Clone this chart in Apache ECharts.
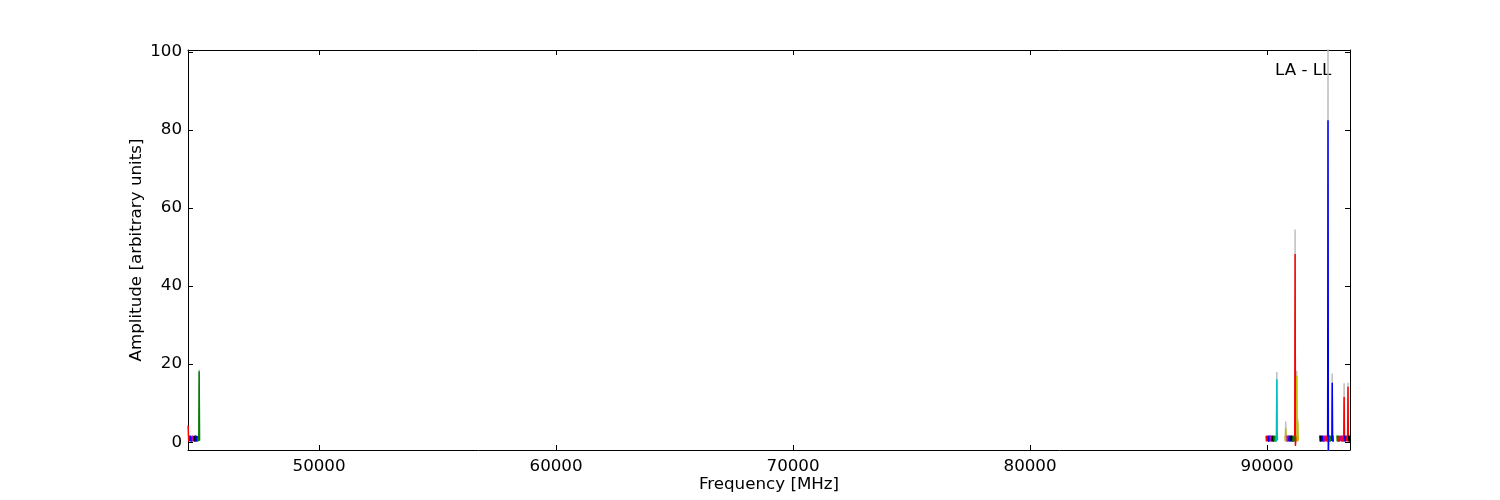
<!DOCTYPE html>
<html>
<head>
<meta charset="utf-8">
<script src="https://cdn.jsdelivr.net/npm/echarts@6/dist/echarts.min.js"></script>
<style>
html,body{margin:0;padding:0;background:#fff;}
#chart{width:1500px;height:500px;}
</style>
</head>
<body>
<div id="chart"></div>
<script>
// Spectral windows: start frequency (MHz), channel width (MHz), colour key, amplitudes
var channelWidth = 14;
var windowStart = [
  44475, 44557, 44639, 44721, 44803, 44885,
  89960, 90042, 90124, 90206, 90288, 90370,
  90760, 90842, 90924, 91006, 91088, 91170, 91252,
  92230, 92312, 92394, 92476, 92558, 92640, 92722,
  92950, 93032, 93114, 93196, 93278, 93360, 93442
];
var windowColor = [
  'r','b','m','k','b','g',
  'r','b','m','k','g','c',
  'y','m','b','k','g','r','y',
  'k','b','m','r','b','g','b',
  'g','r','m','r','b','r','k'
];
var windowAmp = [
  [4.3, 1.6, 0.2, 1.7, 0.3, 1.5],
  [0.2, 1.7, 0.4, 1.6, 0.1, 1.5],
  [1.6, 0.2, 1.7, 0.3, 1.6, 0.2],
  [0.3, 1.6, 0.1, 1.7, 0.2, 1.6],
  [1.7, 0.2, 1.5, 0.1, 1.6, 0.3],
  [0.2, 1.6, 0.3, 1.7, 18.2, 0.4],

  [1.6, 0.2, 1.7, 0.3, 1.5, 0.2],
  [0.3, 1.7, 0.1, 1.6, 0.2, 1.7],
  [1.7, 0.3, 1.6, 0.1, 1.7, 0.2],
  [0.2, 1.6, 0.3, 1.7, 0.1, 1.6],
  [1.5, 0.2, 1.7, 0.3, 1.6, 0.1],
  [0.3, 1.6, 0.2, 16.1, 2.8, 0.5],

  [1.6, 0.2, 3.6, 0.3, 1.7, 0.2],
  [1.7, 0.1, 1.6, 0.3, 1.7, 0.2],
  [0.2, 1.7, 0.3, 1.6, 0.1, 1.7],
  [1.6, 0.3, 1.7, 0.2, 1.6, 0.1],
  [0.3, 1.7, 0.1, 1.6, 0.2, 1.5],
  [1.6, 48.2, -1.0, 1.7, 0.2, 1.6],
  [17.0, 1.6, 0.2, 5.2, 0.3, 1.5],

  [1.7, 0.2, 1.6, 0.1, 1.7, 0.3],
  [0.2, 1.6, 0.3, 1.7, 0.1, 1.6],
  [1.6, 0.1, 1.7, 0.2, 1.6, 0.3],
  [0.3, 1.7, 0.2, 1.6, 0.1, 1.7],
  [1.5, 82.5, -3.0, 1.6, 0.2, 1.7],
  [0.2, 1.7, 0.1, 1.6, 0.3, 1.5],
  [1.6, 0.3, 15.2, 0.2, 1.7, 0.1],

  [1.7, 0.2, 1.6, 0.3, 1.7, 0.1],
  [0.1, 1.6, 0.2, 1.7, 0.3, 1.6],
  [1.6, 0.3, 1.7, 0.1, 1.5, 0.2],
  [0.2, 1.7, 0.1, 1.6, 11.6, 0.3],
  [1.7, 0.1, 1.6, 0.2, 1.7, 0.3],
  [0.3, 1.6, 0.2, 1.7, 14.2, 0.2],
  [1.6, 0.2, 1.7, 0.1, 1.6, 0.3]
];
// Second (grey) polarisation, only where it shows above the coloured trace
var grayWindow = [5, 11, 12, 17, 18, 23, 25, 29, 31];
var grayAmp = [
  [0.3, 1.7, 0.4, 1.8, 18.6, 0.5],
  [0.4, 1.7, 0.3, 18.0, 3.2, 5.0],
  [1.7, 0.3, 5.3, 0.4, 1.8, 0.3],
  [1.7, 54.5, -0.5, 1.8, 0.3, 1.7],
  [18.3, 1.7, 0.3, 6.0, 0.4, 1.6],
  [1.6, 101.0, -2.5, 1.7, 0.3, 1.8],
  [1.7, 0.4, 17.6, 0.3, 1.8, 0.2],
  [0.3, 1.8, 0.2, 1.7, 15.1, 0.4],
  [0.4, 1.7, 0.3, 1.8, 15.2, 0.3]
];
var xMin = 44470, xMax = 93500;
var yMin = -2, yMax = 100.5;
var palette = {b:'#0000ff', g:'#008000', r:'#ff0000', c:'#00bfbf', m:'#bf00bf', y:'#bfbf00', k:'#000000'};

function toPairs(start, amps) {
  return amps.map(function (a, i) { return [start + i * channelWidth, a]; });
}

var series = [];
grayWindow.forEach(function (w, j) {
  series.push({
    type: 'line', data: toPairs(windowStart[w], grayAmp[j]),
    showSymbol: false, silent: true, z: 1,
    lineStyle: { color: '#bfbfbf', width: 1.5 }
  });
});
windowStart.forEach(function (s, i) {
  series.push({
    type: 'line', data: toPairs(s, windowAmp[i]),
    showSymbol: false, silent: true, z: 2,
    lineStyle: { color: palette[windowColor[i]], width: 1.5 }
  });
});

var font = 'DejaVu Sans';
var fs = 16.7;
var plain = function (v) { return String(v); };
var chart = echarts.init(document.getElementById('chart'), null, {renderer: 'canvas'});
chart.setOption({
  animation: false,
  backgroundColor: '#ffffff',
  grid: { left: 188, right: 150, top: 50, bottom: 50 },
  xAxis: [{
    type: 'value', min: xMin, max: xMax, splitNumber: 5,
    name: 'Frequency [MHz]', nameLocation: 'middle', nameGap: 26, nameMoveOverlap: false,
    nameTextStyle: { fontFamily: font, fontSize: fs, color: '#000' },
    axisLine: { show: true, onZero: false, lineStyle: { color: '#000', width: 1 } },
    axisTick: { show: true, inside: true, length: 5, lineStyle: { color: '#000' } },
    axisLabel: { fontFamily: font, fontSize: fs, color: '#000', margin: 8, formatter: plain, showMinLabel: false, showMaxLabel: false },
    splitLine: { show: false }
  }, {
    type: 'value', min: xMin, max: xMax, splitNumber: 5, position: 'top',
    axisLine: { show: true, onZero: false, lineStyle: { color: '#000', width: 1 } },
    axisTick: { show: true, inside: true, length: 5, lineStyle: { color: '#000' } },
    axisLabel: { show: false }, splitLine: { show: false }
  }],
  yAxis: [{
    type: 'value', min: yMin, max: yMax, splitNumber: 5,
    name: 'Amplitude [arbitrary units]', nameLocation: 'middle', nameGap: 43, nameMoveOverlap: false,
    nameTextStyle: { fontFamily: font, fontSize: fs, color: '#000' },
    axisLine: { show: true, onZero: false, lineStyle: { color: '#000', width: 1 } },
    axisTick: { show: true, inside: true, length: 5, lineStyle: { color: '#000' } },
    axisLabel: { fontFamily: font, fontSize: fs, color: '#000', margin: 6, formatter: plain, showMinLabel: false, showMaxLabel: false },
    splitLine: { show: false }
  }, {
    type: 'value', min: yMin, max: yMax, splitNumber: 5, position: 'right',
    axisLine: { show: true, onZero: false, lineStyle: { color: '#000', width: 1 } },
    axisTick: { show: true, inside: true, length: 5, lineStyle: { color: '#000' } },
    axisLabel: { show: false }, splitLine: { show: false }
  }],
  graphic: [{
    type: 'text', left: 1275, top: 62,
    style: { text: 'LA - LL', fontFamily: font, fontSize: fs, fill: '#000' }
  }],
  series: series
});
</script>
</body>
</html>
